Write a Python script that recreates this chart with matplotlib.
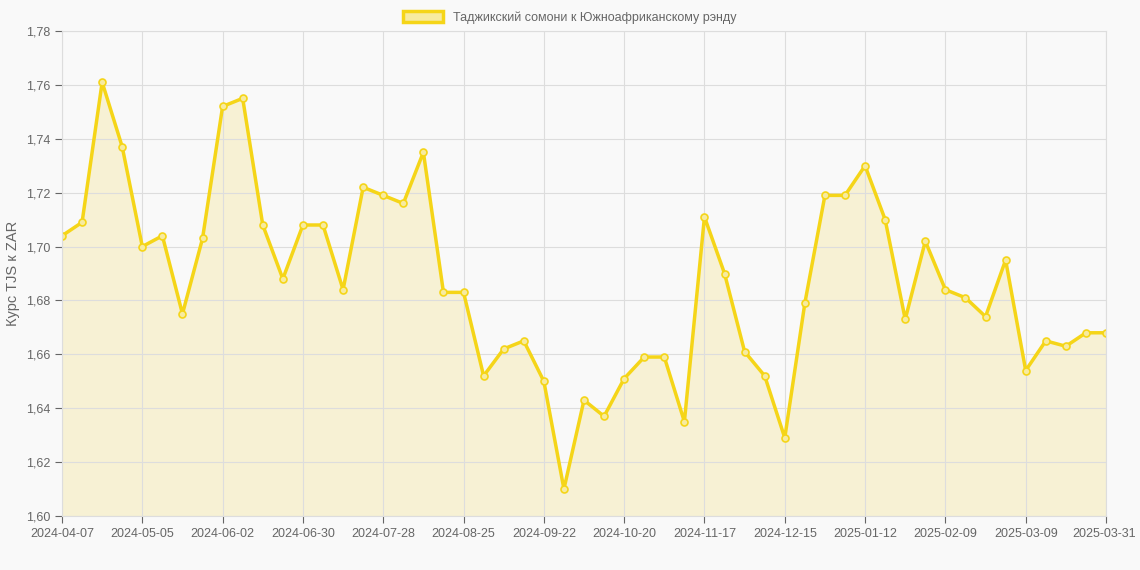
import matplotlib
matplotlib.use("Agg")
import matplotlib.pyplot as plt
from matplotlib.patches import Patch
import datetime as dt

plt.rcParams['font.family'] = ['Liberation Sans', 'DejaVu Sans']

start = dt.date(2024, 4, 7)
dates = [(start + dt.timedelta(weeks=i)).isoformat() for i in range(52)] + ["2025-03-31"]
values = [1.704, 1.709, 1.761, 1.737, 1.700, 1.704, 1.675, 1.703, 1.752, 1.755,
          1.708, 1.688, 1.708, 1.708, 1.684, 1.722, 1.719, 1.716, 1.735, 1.683,
          1.683, 1.652, 1.662, 1.665, 1.650, 1.610, 1.643, 1.637, 1.651, 1.659,
          1.659, 1.635, 1.711, 1.690, 1.661, 1.652, 1.629, 1.679, 1.719, 1.719,
          1.730, 1.710, 1.673, 1.702, 1.684, 1.681, 1.674, 1.695, 1.654, 1.665,
          1.663, 1.668, 1.668]
label = "Таджикский сомони к Южноафриканскому рэнду"
ylabel = "Курс TJS к ZAR"

fig = plt.figure(figsize=(11.4, 5.7), dpi=100, facecolor="#f9f9f9")
ax = fig.add_axes([62/1140, 1-516/570, (1106-62)/1140, (516-31)/570])
ax.set_facecolor("#f9f9f9")
x = list(range(len(values)))
col = "#F5D518"
ax.fill_between(x, values, 1.60, color="#F5E9A8", alpha=0.45, linewidth=0)
ax.plot(x, values, color=col, linewidth=2.5, marker="o", markersize=5,
        markerfacecolor="#F7EBA0", markeredgecolor=col, markeredgewidth=1.2)
ax.set_xlim(0, len(values)-1)
ax.set_ylim(1.60, 1.78)
ticks = list(range(0, 49, 4)) + [52]
ax.set_xticks(ticks)
ax.set_xticklabels([dates[i] for i in ticks])
ax.get_xticklabels()[-1].set_horizontalalignment("right")
ax.get_xticklabels()[-1].set_x(0)
yt = [1.60 + 0.02*i for i in range(10)]
ax.set_yticks(yt)
ax.set_yticklabels([f"{v:.2f}".replace(".", ",") for v in yt])
ax.tick_params(colors="#666666", labelsize=9, length=5)
ax.grid(True, color="#dddddd", linewidth=0.8)
for s in ax.spines.values():
    s.set_color("#dddddd")
ax.set_ylabel(ylabel, color="#666666", fontsize=10.5, labelpad=4)
fig.canvas.draw()
lbl = ax.get_xticklabels()[-1]
lbl.set_horizontalalignment("right")
import matplotlib.transforms as mt
lbl.set_transform(lbl.get_transform() + mt.ScaledTranslation(30/100, 0, fig.dpi_scale_trans))
fig.legend(handles=[Patch(facecolor="#F7EBA0", edgecolor=col, linewidth=2.5, label=label)],
           loc="upper center", bbox_to_anchor=(0.5, 1.0), frameon=False,
           fontsize=9, labelcolor="#666666", handlelength=3.2, handleheight=0.9)
fig.savefig("out.png", dpi=100, facecolor=fig.get_facecolor())
